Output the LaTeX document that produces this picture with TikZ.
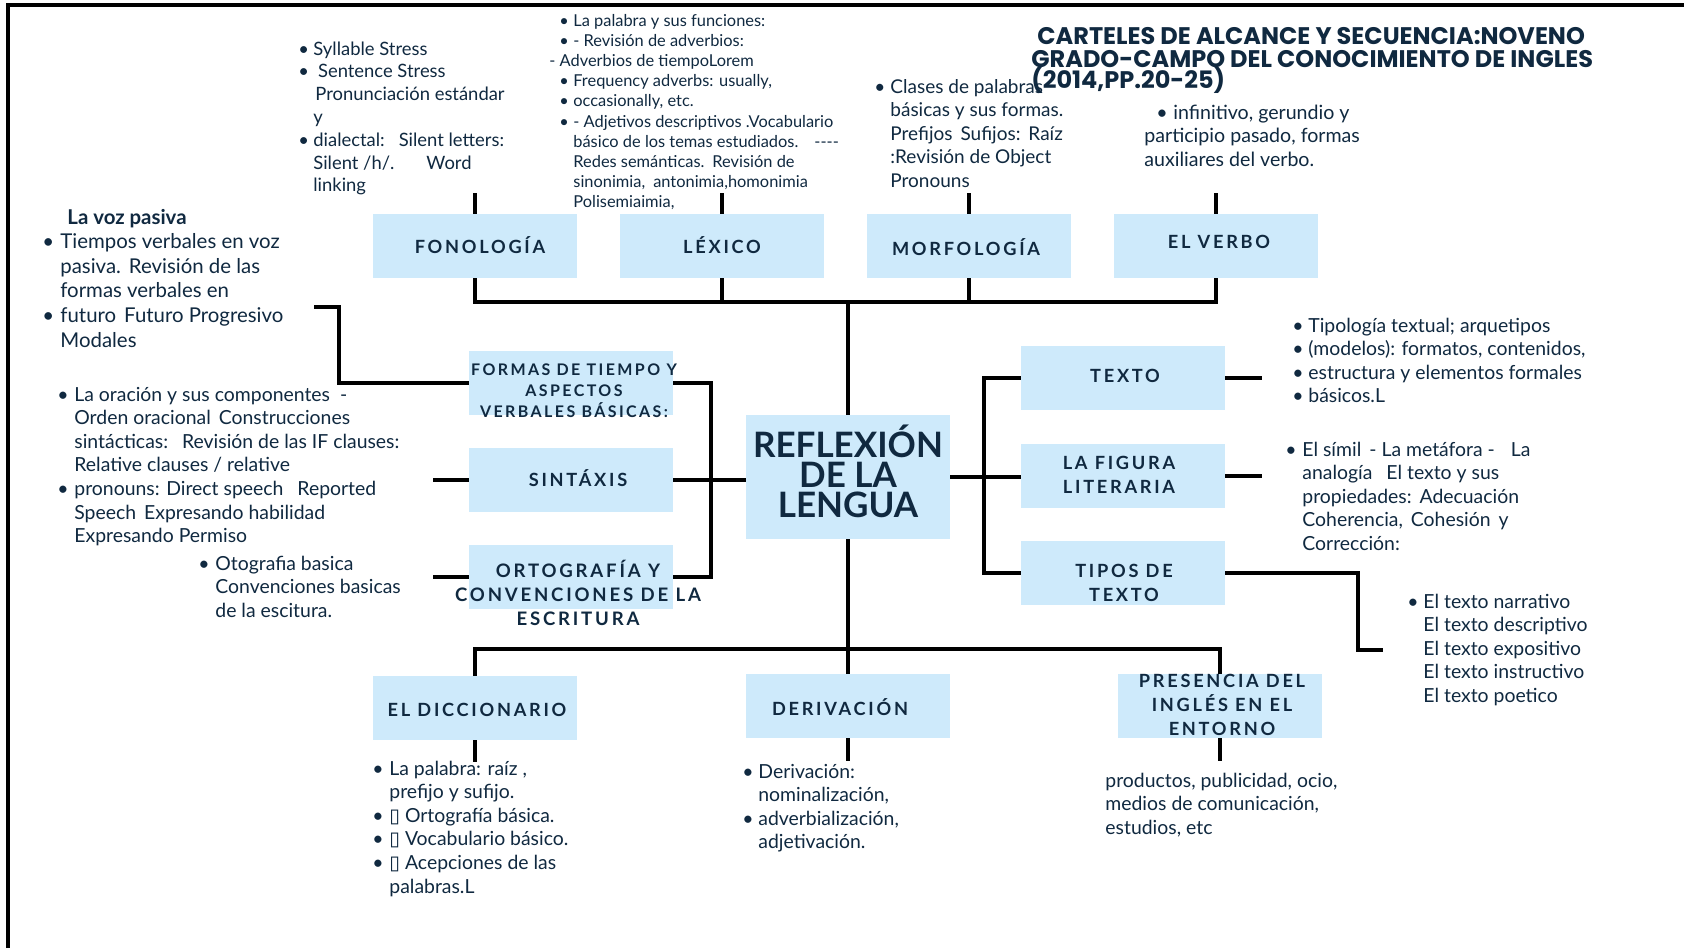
\documentclass[tikz,border=0pt]{standalone}
\usepackage{fontspec}
\setmainfont{Lato}
\newfontfamily\titlefont{Poppins}
\newfontfamily\boxfont{Lato}[LetterSpace=15]
\newfontfamily\symfont{DejaVu Sans}
\definecolor{navy}{RGB}{16,41,64}
\definecolor{boxblue}{RGB}{206,234,251}
\newlength\bw
\setlength\bw{6.5pt}
\newcommand\bu{\makebox[\bw][l]{\hspace*{-1.5pt}\textbullet}}
\newcommand\ct{\hspace*{\bw}}
\newcommand\blk[1]{\begin{tabular}[t]{@{}l@{}}#1\end{tabular}}
\newcommand\tofu{{\symfont ▯}}
\tikzset{
  box/.style={fill=boxblue, draw=none, minimum width=102pt, minimum height=32pt, inner sep=0pt},
  lbl/.style={text=navy, align=center, inner sep=0pt, font=\boxfont\bfseries\fontsize{9.1}{11.8}\selectfont},
  conn/.style={line width=1.6pt, draw=black},
  txt/.style={text=navy, inner sep=0pt, anchor=base west},
  body/.style={font=\fontsize{9.7}{11.8}\selectfont},
  ttl/.style={text=navy, inner sep=0pt, anchor=base west, font=\titlefont\bfseries\fontsize{12}{11}\selectfont}
}
\begin{document}
\begin{tikzpicture}[x=0.5pt,y=-0.5pt]
\useasboundingbox (0,0) rectangle (1684,948);
\fill[white] (0,0) rectangle (1684,948);
% frame
\draw[line width=2pt] (8,948) -- (8,5) -- (1684,5);

% boxes
\node[box] (fon) at (475,246) {};
\node[box] (lex) at (722,246) {};
\node[box] (mor) at (969,246) {};
\node[box] (ver) at (1216,246) {};
\node[box, minimum height=62pt] (central) at (848,477) {};
\node[box] (formas) at (571,383) {};
\node[box] (sint) at (571,480) {};
\node[box] (orto) at (571,577) {};
\node[box] (texto) at (1123,378) {};
\node[box] (fig) at (1123,476) {};
\node[box] (tipos) at (1123,573) {};
\node[box] (dicc) at (475,708) {};
\node[box] (deriv) at (848,706) {};
\node[box] (pres) at (1220,706) {};

% box labels
\node[lbl] (lfon) at (480,245) {FONOLOGÍA};
\node[lbl] (llex) at (722,245) {LÉXICO};
\node[lbl] (lmor) at (966,247) {MORFOLOGÍA};
\node[lbl] (lver) at (1219,242) {EL VERBO};
\node[lbl, font=\boxfont\bfseries\fontsize{8}{10.5}\selectfont] (lformas) at (574,391) {FORMAS DE TIEMPO Y\\ASPECTOS\\VERBALES BÁSICAS:};
\node[lbl] (lsint) at (578,478) {SINTÁXIS};
\node[lbl, font=\boxfont\bfseries\fontsize{9.3}{11.8}\selectfont] (lorto) at (578,593) {ORTOGRAFÍA Y\\CONVENCIONES DE LA\\ESCRITURA};
\node[lbl] (ltexto) at (1125,376) {TEXTO};
\node[lbl] (lfig) at (1119,475) {LA FIGURA\\LITERARIA};
\node[lbl] (ltipos) at (1124,583) {TIPOS DE\\TEXTO};
\node[lbl] (ldicc) at (477,710) {EL DICCIONARIO};
\node[lbl] (lderiv) at (840,707) {DERIVACIÓN};
\node[lbl] (lpres) at (1222,705) {PRESENCIA DEL\\INGLÉS EN EL\\ENTORNO};
\node[text=navy, align=center, inner sep=0pt, font=\bfseries\fontsize{17.5}{15}\selectfont] (lcen) at (848,471) {REFLEXIÓN\\DE LA\\LENGUA};

% top connectors
\coordinate (tbus) at (848,302);
\draw[conn] (fon.south) |- (tbus) -| (ver.south);
\draw[conn] (lex.south) -- (lex.south |- tbus);
\draw[conn] (mor.south) -- (mor.south |- tbus);
\draw[conn] (central.north) -- (tbus);
\draw[conn] (fon.north) -- ++(0,-21);
\draw[conn] (lex.north) -- ++(0,-21);
\draw[conn] (mor.north) -- ++(0,-21);
\draw[conn] (ver.north) -- ++(0,-21);

% left connectors
\coordinate (lb) at (711,577);
\draw[conn] (formas.east) -| (lb) -- (orto.east);
\draw[conn] (sint.east) -- (sint.east -| central.west);
\coordinate (vozelbow) at (339,307);
\coordinate (vozend) at (314,307);
\draw[conn] (formas.west) -| (vozelbow) -- (vozend);
\coordinate (sintend) at (433,480);
\draw[conn] (sint.west) -- (sintend);
\coordinate (ortoend) at (433,577);
\draw[conn] (orto.west) -- (ortoend);

% right connectors
\coordinate (rb) at (984,476);
\draw[conn] (texto.west) -| (rb) |- (tipos.west);
\draw[conn] (central.east) -- (central.east -| fig.west);
\coordinate (textoend) at (1262,378);
\draw[conn] (texto.east) -- (textoend);
\coordinate (figend) at (1262,476);
\draw[conn] (fig.east) -- (figend);
\coordinate (tiposelbow) at (1358,650);
\coordinate (tiposend) at (1383,650);
\draw[conn] (tipos.east) -| (tiposelbow) -- (tiposend);

% bottom connectors
\coordinate (bbus) at (848,649);
\draw[conn] (central.south) -- (deriv.north);
\draw[conn] (dicc.north) |- (bbus) -| (pres.north);
\draw[conn] (dicc.south) -- ++(0,22);
\draw[conn] (deriv.south) -- ++(0,23);
\draw[conn] (pres.south) -- ++(0,23);

% text blocks
\node[txt, font=\fontsize{9.2}{11.4}\selectfont] (tfon) at (301,55) {\setlength\bw{6pt}\blk{%
\bu Syllable Stress\\
\bu\ Sentence Stress\\
\ct\hspace*{1pt}Pronunciación estándar\\
\ct y\\
\bu dialectal:\hspace{7pt}Silent letters:\\
\ct Silent /h/.\hspace{16pt}Word\\
\ct linking}};

\node[txt, font=\fontsize{8.2}{10.1}\selectfont] (tlex) at (562,26) {\setlength\bw{5.5pt}\blk{%
\bu La palabra y sus funciones:\\
\bu - Revisión de adverbios:\\
\hspace*{-6.5pt}- Adverbios de tiempoLorem\\
\bu Frequency adverbs: usually,\\
\bu occasionally, etc.\\
\bu - Adjetivos descriptivos .Vocabulario\\
\ct básico de los temas estudiados.\hspace{8pt}-{}-{}-{}-\\
\ct Redes semánticas.\hspace{4pt}Revisión de\\
\ct sinonimia,\hspace{4pt}antonimia,homonimia\\
\ct Polisemiaimia,}};

\node[txt, font=\fontsize{9.5}{11.8}\selectfont] (tmor) at (877,93) {\setlength\bw{6.5pt}\blk{%
\bu Clases de palabras\\
\ct básicas y sus formas.\\
\ct Prefijos\hspace{4pt}Sufijos:\hspace{4pt}Raíz\\
\ct :Revisión de Object\\
\ct Pronouns}};

\node[txt, font=\fontsize{9.8}{11.8}\selectfont] (tver) at (1144,119) {\setlength\bw{7pt}\blk{%
\hspace*{7.5pt}\bu infinitivo, gerundio y\\
participio pasado, formas\\
auxiliares del verbo.}};

\node[txt, font=\fontsize{10.2}{12.3}\selectfont] (tvoz) at (45,224) {\setlength\bw{7.5pt}\blk{%
\hspace*{11pt}\textbf{La voz pasiva}\\
\bu Tiempos verbales en voz\\
\ct pasiva.\hspace{4pt}Revisión de las\\
\ct formas verbales en\\
\bu futuro\hspace{4pt}Futuro Progresivo\\
\ct Modales}};

\node[txt, body] (tsint) at (60,401) {\setlength\bw{7pt}\blk{%
\bu La oración y sus componentes\hspace{5pt}-\\
\ct Orden oracional\hspace{4pt}Construcciones\\
\ct sintácticas:\hspace{7pt}Revisión de las IF clauses:\\
\ct Relative clauses / relative\\
\bu pronouns: Direct speech\hspace{7pt}Reported\\
\ct Speech\hspace{4pt}Expresando habilidad\\
\ct Expresando Permiso}};

\node[txt, body] (torto) at (201,570) {\setlength\bw{7pt}\blk{%
\bu Otografia basica\\
\ct Convenciones basicas\\
\ct de la escitura.}};

\node[txt, body] (ttexto) at (1295,332) {\setlength\bw{6.5pt}\blk{%
\bu Tipología textual; arquetipos\\
\bu (modelos): formatos, contenidos,\\
\bu estructura y elementos formales\\
\bu básicos.L}};

\node[txt, body] (tfig) at (1288,456) {\setlength\bw{7pt}\blk{%
\bu El símil\hspace{4pt}- La metáfora -\hspace{8pt}La\\
\ct analogía\hspace{7pt}El texto y sus\\
\ct propiedades:\hspace{4pt}Adecuación\\
\ct Coherencia,\hspace{4pt}Cohesión\hspace{4pt}y\\
\ct Corrección:}};

\node[txt, body] (ttipos) at (1410,608) {\setlength\bw{6.5pt}\blk{%
\bu El texto narrativo\\
\ct El texto descriptivo\\
\ct El texto expositivo\\
\ct El texto instructivo\\
\ct El texto poetico}};

\node[txt, body] (tdicc) at (375,775) {\setlength\bw{7pt}\blk{%
\bu La palabra: raíz ,\\
\ct prefijo y sufijo.\\
\bu \tofu\ Ortografía básica.\\
\bu \tofu\ Vocabulario básico.\\
\bu \tofu\ Acepciones de las\\
\ct palabras.L}};

\node[txt, body] (tderiv) at (745,778) {\setlength\bw{6.5pt}\blk{%
\bu Derivación:\\
\ct nominalización,\\
\bu adverbialización,\\
\ct adjetivación.}};

\node[txt, body] (tpres) at (1105,787) {\blk{%
productos, publicidad, ocio,\\
medios de comunicación,\\
estudios, etc}};

% title
\node[ttl] (title1) at (1037,44.5) {CARTELES DE ALCANCE Y SECUENCIA:NOVENO};
\node[ttl] (title2) at (1031,67) {GRADO-CAMPO DEL CONOCIMIENTO DE INGLES};
\node[ttl] (title3) at (1031,88.5) {(2014,PP.20-25)};
\end{tikzpicture}
\end{document}
